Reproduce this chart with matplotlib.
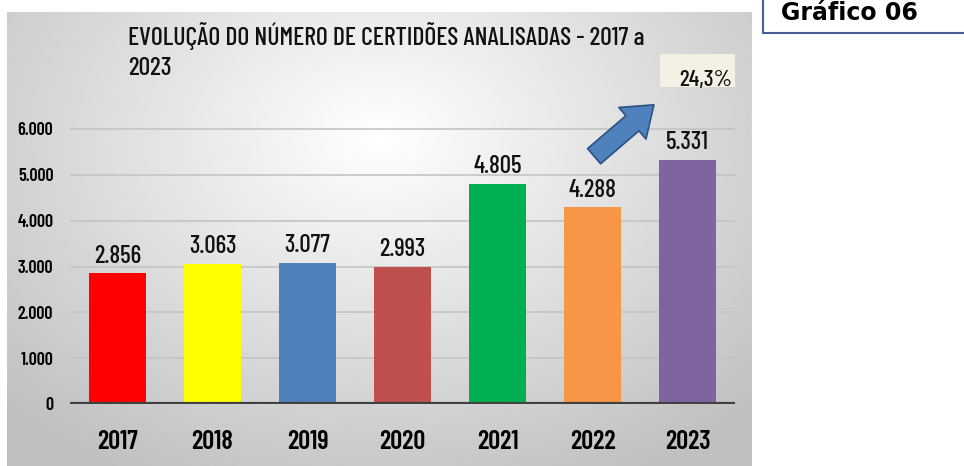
import numpy as np
import matplotlib
matplotlib.use("Agg")
from matplotlib import pyplot as plt
from matplotlib.patches import Rectangle, FancyArrowPatch

years = ["2017", "2018", "2019", "2020", "2021", "2022", "2023"]
values = [2856, 3063, 3077, 2993, 4805, 4288, 5331]
value_labels = ["2.856", "3.063", "3.077", "2.993", "4.805", "4.288", "5.331"]
colors = ["#FF0000", "#FFFF00", "#4F81BD", "#C0504D", "#00B050", "#F79646", "#8064A2"]
yticks = [0, 1000, 2000, 3000, 4000, 5000, 6000]
ytick_labels = ["0", "1.000", "2.000", "3.000", "4.000", "5.000", "6.000"]
title = "EVOLUÇÃO DO NÚMERO DE CERTIDÕES ANALISADAS - 2017 a\n2023"
growth = "24,3%"

plt.rcParams['font.family'] = ['Barlow Condensed', 'Asap Condensed', 'DejaVu Sans']

W, H = 964, 466
fig = plt.figure(figsize=(W / 100, H / 100), dpi=100)


def fx(px):
    return px / W


def fy(py):
    return 1 - py / H


# gray gradient panel behind the chart
bg = fig.add_axes([fx(7), fy(466), fx(752 - 7), (466 - 12) / H])
gx = np.linspace(-1, 1, 300)
gy = np.linspace(-1, 1, 200)
X, Y = np.meshgrid(gx, gy)
r = np.sqrt((X * 0.85) ** 2 + ((Y + 0.45) * 0.7) ** 2)
shade = 1.0 - 0.25 * np.clip(r, 0, 1.2) / 1.2
bg.imshow(shade, cmap="gray", vmin=0, vmax=1, aspect="auto",
          extent=[0, 1, 0, 1], origin="upper")
bg.set_axis_off()

# main axes: zero line at y=404px, 6000 at y=129px
px_per_k = (404 - 129) / 6
top_val = 7000
ax = fig.add_axes([fx(70), fy(404), fx(735 - 70), top_val / 1000 * px_per_k / H])
ax.patch.set_alpha(0)
ax.set_xlim(-0.5, 6.5)
ax.set_ylim(0, top_val)

x = np.arange(len(years))
ax.bar(x, values, width=0.6, color=colors, zorder=3)
for xi, v, lab in zip(x, values, value_labels):
    ax.annotate(lab, (xi, v), xytext=(0, 4), textcoords="offset points",
                ha="center", va="bottom", fontsize=18, fontweight=500,
                color="#111111", zorder=4)

for t in yticks[1:]:
    ax.axhline(t, color="#c4c4c4", lw=1.2, zorder=1)
ax.axhline(0, color="#404040", lw=3, zorder=4)

ax.set_yticks(yticks)
ax.set_yticklabels(ytick_labels, fontsize=13, fontweight=600)
ax.set_xticks(x)
ax.set_xticklabels(years, fontsize=19, fontweight=600)
ax.tick_params(axis="y", length=0, pad=12)
ax.tick_params(axis="x", length=0, pad=19)
for s in ax.spines.values():
    s.set_visible(False)

# title
fig.text(fx(128), fy(22), title, ha="left", va="top", fontsize=18.5,
         fontweight=500, color="#111111", linespacing=1.38)

# growth label box
fig.patches.append(Rectangle((fx(660), fy(87)), fx(75), 33 / H,
                             transform=fig.transFigure, facecolor="#f3f1e4",
                             edgecolor="none", zorder=2))
fig.text(fx(706), fy(80), growth, ha="center", va="center", fontsize=17,
         fontweight=500, color="#111111", zorder=3)

# blue arrow
arrow = FancyArrowPatch((fx(592), fy(158)), (fx(656), fy(103)),
                        transform=fig.transFigure,
                        arrowstyle="simple,head_width=2.5,head_length=1.7,tail_width=1.2",
                        mutation_scale=12, facecolor="#4F81BD",
                        edgecolor="#2c5282", lw=1.2, zorder=5)
fig.patches.append(arrow)

# "Gráfico 06" box
fig.patches.append(Rectangle((fx(763), fy(33)), fx(230), 40 / H,
                             transform=fig.transFigure, facecolor="white",
                             edgecolor="#4a5f9a", lw=1.5, zorder=2))
fig.text(fx(781), fy(20), "Gráfico 06", ha="left", va="baseline",
         fontsize=17, fontweight="bold", family=["DejaVu Sans"], zorder=3)

fig.savefig("out.png", dpi=100)
